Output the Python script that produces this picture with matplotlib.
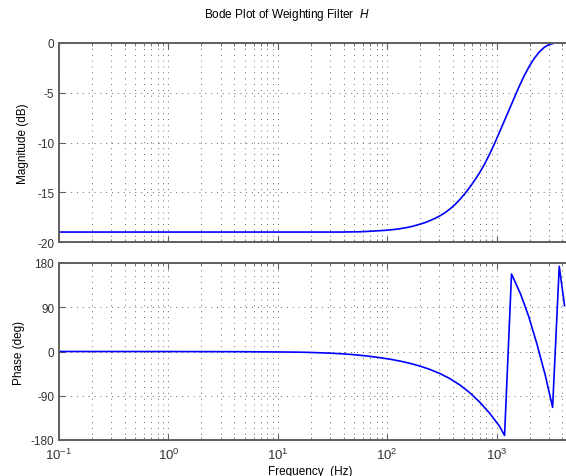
import numpy as np
import matplotlib
matplotlib.use('Agg')
import matplotlib.pyplot as plt
from matplotlib.ticker import LogLocator, FixedLocator, FixedFormatter, NullFormatter

plt.rcParams['font.family'] = ['Liberation Sans', 'DejaVu Sans']
plt.rcParams['mathtext.fontset'] = 'custom'
plt.rcParams['mathtext.rm'] = 'Liberation Sans'
plt.rcParams['mathtext.it'] = 'Liberation Sans:italic'
plt.rcParams['axes.unicode_minus'] = False

# Magnitud (Hz, dB)
frec_mag = [0.1, 1, 10, 20, 37.4, 57, 70, 86.4, 95.9, 106.5, 118.2, 131.3, 145.8, 161.9, 179.7,
            199.5, 221.6, 246.0, 273.2, 303.3, 336.8, 373.9, 415.2, 460.9, 511.8, 568.3, 631.0,
            700.7, 778.0, 863.8, 959.0, 1064.8, 1182.4, 1312.8, 1457.6, 1618.4, 1797.0, 1995.3,
            2215.4, 2459.8, 2731.2, 3032.5, 3367.0, 3738.6, 4151.1]
mag_db = [-19.0, -19.0, -19.0, -19.0, -19.0, -18.97, -18.92, -18.86, -18.83, -18.78, -18.73, -18.66,
          -18.58, -18.48, -18.35, -18.21, -18.05, -17.85, -17.63, -17.37, -17.06, -16.69, -16.25,
          -15.73, -15.15, -14.50, -13.79, -13.02, -12.15, -11.16, -10.09, -8.94, -7.78, -6.62,
          -5.45, -4.30, -3.25, -2.31, -1.53, -0.89, -0.43, -0.14, -0.02, 0.0, 0.0]

# Fase (Hz, grados, con saltos de +-180)
frec_fase = [0.1, 1, 5, 10, 16.19, 19.95, 24.6, 30.33, 37.39, 46.09, 56.83, 70.06, 86.4, 106.5,
             131.3, 161.9, 199.5, 246.0, 303.3, 373.9, 460.9, 568.3, 700.7, 863.8, 1064.8, 1182.4,
             1369, 1653, 1966, 2344, 2789, 3250, 3739, 4178]
fase_deg = [0.0, -0.1, -0.45, -0.9, -1.42, -1.93, -2.6, -3.42, -4.47, -5.9, -7.73, -9.97, -12.61,
            -15.76, -19.53, -24.1, -29.7, -36.51, -44.85, -55.12, -67.93, -83.8, -102.92, -125.49,
            -152.14, -170.85, 157.6, 117.5, 71.2, 14.2, -48.8, -113.5, 173.3, 93.2]

ticks_x = [0.1, 1, 10, 100, 1000, 10000]
etiquetas_x = ['$10^{-1}$', '$10^{0}$', '$10^{1}$', '$10^{2}$', '$10^{3}$', '']
ticks_mag = [-20, -15, -10, -5, 0]
ticks_fase = [-180, -90, 0, 90, 180]

gris_ejes = '#606060'
gris_grid = '#666666'

fig = plt.figure(figsize=(5.66, 4.77), dpi=100)
W, H = 566.0, 477.0
izq, der = 59, 606

ax1 = fig.add_axes([izq / W, 1 - 243 / H, (der - izq) / W, 199 / H])
ax2 = fig.add_axes([izq / W, 1 - 441 / H, (der - izq) / W, 177 / H])

ax1.plot(frec_mag, mag_db, color='#0000ff', lw=1.2)
ax2.plot(frec_fase, fase_deg, color='#0000ff', lw=1.2)

for ax in (ax1, ax2):
    ax.set_xscale('log')
    ax.set_xlim(0.1, 1e4)
    ax.xaxis.set_major_locator(FixedLocator(ticks_x))
    ax.xaxis.set_major_formatter(FixedFormatter(etiquetas_x))
    ax.xaxis.set_minor_locator(LogLocator(base=10, subs=np.arange(2, 10), numticks=20))
    ax.xaxis.set_minor_formatter(NullFormatter())
    ax.tick_params(which='both', direction='in', top=True, right=True,
                   colors=gris_ejes, labelcolor='#333333', labelsize=8.5)
    ax.tick_params(which='major', length=4, width=0.8)
    ax.tick_params(which='minor', length=2, width=0.6)
    for s in ax.spines.values():
        s.set_color(gris_ejes)
        s.set_linewidth(1.4)
    ax.grid(True, which='major', axis='both', color=gris_grid, linestyle=(0, (1, 5)), lw=0.7)
    ax.grid(True, which='minor', axis='x', color=gris_grid, linestyle=(0, (1, 5)), lw=0.7)
    ax.set_axisbelow(True)

ax1.set_ylim(-20, 0)
ax1.yaxis.set_major_locator(FixedLocator(ticks_mag))
ax1.tick_params(axis='x', labelbottom=False)
ax1.set_ylabel('Magnitude (dB)', fontsize=8.5, labelpad=6)

ax2.set_ylim(-180, 180)
ax2.yaxis.set_major_locator(FixedLocator(ticks_fase))
ax2.set_ylabel('Phase (deg)', fontsize=8.5, labelpad=4)
ax2.tick_params(axis='x', labelsize=9.5, pad=5)

fig.text(287 / W, 1 - 15 / H, 'Bode Plot of Weighting Filter  $H$', ha='center', va='center', fontsize=8.5)
fig.text(310 / W, 1 - 466 / H, 'Frequency  (Hz)', ha='center', va='top', fontsize=8.5)

plt.savefig('out.png', dpi=100)
